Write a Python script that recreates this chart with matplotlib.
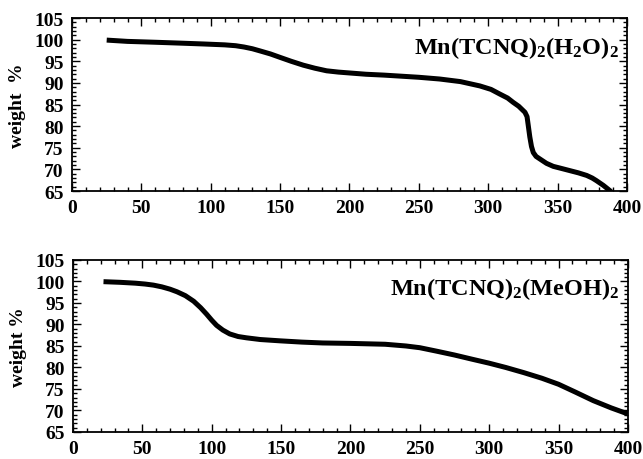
import matplotlib
matplotlib.use("Agg")
import matplotlib.pyplot as plt
from matplotlib.ticker import MultipleLocator

plt.rcParams['font.family'] = ['Liberation Serif', 'DejaVu Serif']
plt.rcParams['font.weight'] = 'bold'
plt.rcParams['mathtext.fontset'] = 'custom'
plt.rcParams['mathtext.rm'] = 'Liberation Serif:bold'
plt.rcParams['mathtext.it'] = 'Liberation Serif:bold'
plt.rcParams['mathtext.bf'] = 'Liberation Serif:bold'

# H2O compound TGA
temp_h2o = [25, 40, 60, 78, 95, 110, 118, 124, 130, 135.5, 143, 150, 158, 166.7, 175, 183.5, 192,
            200, 212, 225, 240, 250, 265, 280, 294, 302, 308.5, 314, 318, 322, 326.5, 328, 328.9,
            330, 331.2, 332.5, 334.5, 337.3, 342, 346.9, 353, 359, 365, 371, 375, 378, 383, 387.7, 389]
wt_h2o = [99.9, 99.6, 99.4, 99.2, 99.0, 98.8, 98.6, 98.3, 97.9, 97.4, 96.7, 95.9, 95.0, 94.1, 93.4,
          92.8, 92.5, 92.3, 92.0, 91.8, 91.5, 91.3, 90.9, 90.3, 89.3, 88.5, 87.4, 86.5, 85.5, 84.6,
          83.2, 82.2, 80.1, 77.5, 75.3, 73.9, 73.0, 72.4, 71.4, 70.7, 70.2, 69.7, 69.2, 68.6, 68.0,
          67.4, 66.3, 65.1, 64.7]

# MeOH compound TGA
temp_meoh = [22, 34, 45, 52, 58, 64, 70, 75, 81, 87, 92, 96.3, 100, 103.5, 108, 113, 119, 125, 135,
             149, 165, 180, 200, 225, 240, 250, 262, 275, 288, 300, 312, 325, 338, 350, 362, 375,
             388, 400]
wt_meoh = [99.95, 99.8, 99.6, 99.4, 99.15, 98.75, 98.2, 97.6, 96.7, 95.4, 93.9, 92.4, 91.0, 89.8,
           88.7, 87.8, 87.2, 86.9, 86.5, 86.2, 85.9, 85.7, 85.6, 85.4, 85.0, 84.6, 83.8, 82.9, 81.9,
           81.0, 80.0, 78.8, 77.5, 76.1, 74.3, 72.3, 70.6, 69.2]

xticks = [0, 50, 100, 150, 200, 250, 300, 350, 400]
yticks = [65, 70, 75, 80, 85, 90, 95, 100, 105]

fig = plt.figure(figsize=(6.43, 4.60), dpi=100)
ax1 = fig.add_axes([0.112, 0.5826, 0.863, 0.376])
ax2 = fig.add_axes([0.1135, 0.0587, 0.863, 0.374])

panels = [
    (ax1, temp_h2o, wt_h2o, r"Mn(TCNQ)$_2$(H$_2$O)$_2$", "weight  %"),
    (ax2, temp_meoh, wt_meoh, r"Mn(TCNQ)$_2$(MeOH)$_2$", "weight %"),
]
for ax, t, w, label, ylab in panels:
    ax.plot(t, w, color='black', lw=3.6, solid_capstyle='butt', solid_joinstyle='round')
    ax.set_xlim(0, 400)
    ax.set_ylim(65, 105)
    ax.set_xticks(xticks)
    ax.set_yticks(yticks)
    ax.xaxis.set_minor_locator(MultipleLocator(10))
    ax.yaxis.set_minor_locator(MultipleLocator(1))
    ax.tick_params(which='both', direction='in', top=True, right=True, width=1.0)
    ax.tick_params(which='major', length=6)
    ax.tick_params(which='minor', length=3)
    ax.tick_params(axis='x', which='major', pad=6, labelsize=14)
    ax.tick_params(axis='y', which='major', pad=6, labelsize=14)
    for lbl in ax.get_xticklabels() + ax.get_yticklabels():
        lbl.set_fontweight('bold')
    for sp in ax.spines.values():
        sp.set_linewidth(1.3)
    ax.set_ylabel(ylab, fontsize=14, fontweight='bold', labelpad=6)
    ax.text(0.985, 0.80, label, transform=ax.transAxes, ha='right', va='baseline',
            fontsize=17.5, fontweight='bold')

fig.savefig("out.png", dpi=100)
